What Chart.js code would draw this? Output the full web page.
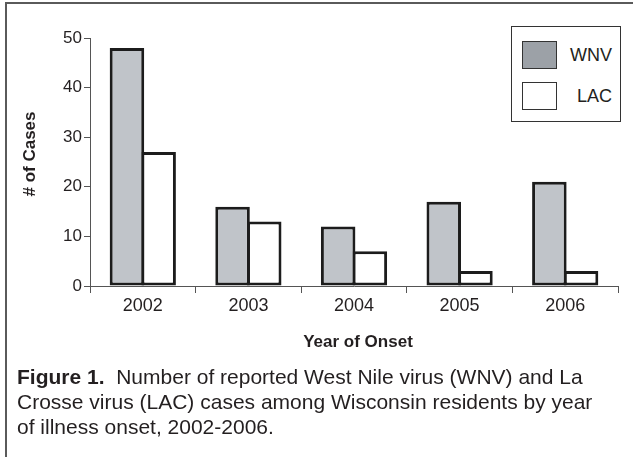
<!DOCTYPE html>
<html>
<head>
<meta charset="utf-8">
<script src="https://cdn.jsdelivr.net/npm/chart.js@4.4.0/dist/chart.umd.min.js"></script>
<style>
  body { margin: 0; background: #fff; font-family: "Liberation Sans", Arial, sans-serif; color: #231f20; }
  #wrap { position: relative; width: 633px; height: 457px; overflow: hidden; }
  #frame { position: absolute; left: 5px; top: 2px; width: 700px; height: 500px; border-top: 2px solid #5a5a5a; border-left: 2px solid #5a5a5a; }
  #chart { position: absolute; left: 0; top: 0; }
  #legend { position: absolute; left: 511px; top: 26px; width: 110px; height: 96px; border: 1.5px solid #333; box-sizing: border-box; background: #fff; }
  .sw { position: absolute; left: 10px; width: 35px; height: 28px; border: 1.5px solid #333; box-sizing: border-box; }
  .lb { position: absolute; right: 8px; font-size: 18px; line-height: 28px; }
  #caption { position: absolute; left: 17px; top: 364px; font-size: 21px; line-height: 25px; white-space: nowrap; }
</style>
</head>
<body>
<div id="wrap">
  <div id="frame"></div>
  <canvas id="chart" width="633" height="457"></canvas>
  <div id="legend"></div>
  <div id="caption"><b>Figure 1.</b>&nbsp; Number of reported West Nile virus (WNV) and La<br>Crosse virus (LAC) cases among Wisconsin residents by year<br>of illness onset, 2002-2006.</div>
</div>
<script>
const years = ['2002', '2003', '2004', '2005', '2006'];
const wnvCases = [48, 16, 12, 17, 21];
const lacCases = [27, 13, 7, 3, 3];
const yTicks = [0, 10, 20, 30, 40, 50];

const seriesNames = ['WNV', 'LAC'];
const barFills = ['#c0c4c9', '#ffffff'];
const legendFills = ['#9ca1a7', '#ffffff'];

const textColor = '#231f20';
const axisColor = '#555';
const fontFamily = '"Liberation Sans", Arial, sans-serif';

// axis titles drawn by hand so they sit where the original has them
const axisTitles = {
  id: 'axisTitles',
  afterDraw(chart) {
    const ctx = chart.ctx;
    const area = chart.chartArea;
    ctx.save();
    ctx.fillStyle = textColor;
    ctx.font = 'bold 17px ' + fontFamily;
    ctx.textAlign = 'center';
    ctx.textBaseline = 'middle';
    ctx.fillText('Year of Onset', (area.left + area.right) / 2 + 4, 342);
    ctx.translate(30, area.top + (area.bottom - area.top) / 2 - 8);
    ctx.rotate(-Math.PI / 2);
    ctx.fillText('# of Cases', 0, 0);
    ctx.restore();
  }
};

const ctx = document.getElementById('chart');
const chart = new Chart(ctx, {
  type: 'bar',
  data: {
    labels: years,
    datasets: [
      { label: seriesNames[0], data: wnvCases, backgroundColor: barFills[0] },
      { label: seriesNames[1], data: lacCases, backgroundColor: barFills[1] }
    ]
  },
  options: {
    responsive: false,
    animation: false,
    layout: { padding: { left: 0, right: 15, top: 38, bottom: 457 - 286 - 30 } },
    datasets: {
      bar: {
        categoryPercentage: 0.6,
        barPercentage: 1.09,   // slight overlap so neighbouring bars share one edge
        borderWidth: 3,
        borderColor: '#1c1c1c',
        borderSkipped: false,
        inflateAmount: 0
      }
    },
    plugins: { legend: { display: false }, tooltip: { enabled: false } },
    scales: {
      x: {
        grid: { drawOnChartArea: false, tickLength: 7, color: axisColor, offset: true },
        border: { color: axisColor, width: 1 },
        ticks: { color: textColor, font: { size: 18, family: fontFamily }, padding: 2, maxRotation: 0 },
        afterFit: s => { s.height = 30; }
      },
      y: {
        min: yTicks[0],
        max: yTicks[yTicks.length - 1],
        ticks: { stepSize: yTicks[1] - yTicks[0], color: textColor, font: { size: 17, family: fontFamily }, padding: 2 },
        grid: { drawOnChartArea: false, tickLength: 6, color: axisColor },
        border: { color: axisColor, width: 1 },
        afterFit: s => { s.width = 90; }
      }
    }
  },
  plugins: [axisTitles]
});

// legend box built from the series names
const legend = document.getElementById('legend');
seriesNames.forEach((name, i) => {
  const top = 14 + i * 41;
  const sw = document.createElement('div');
  sw.className = 'sw';
  sw.style.top = top + 'px';
  sw.style.background = legendFills[i];
  legend.appendChild(sw);
  const lb = document.createElement('div');
  lb.className = 'lb';
  lb.style.top = top + 'px';
  lb.textContent = name;
  legend.appendChild(lb);
});
</script>
</body>
</html>
